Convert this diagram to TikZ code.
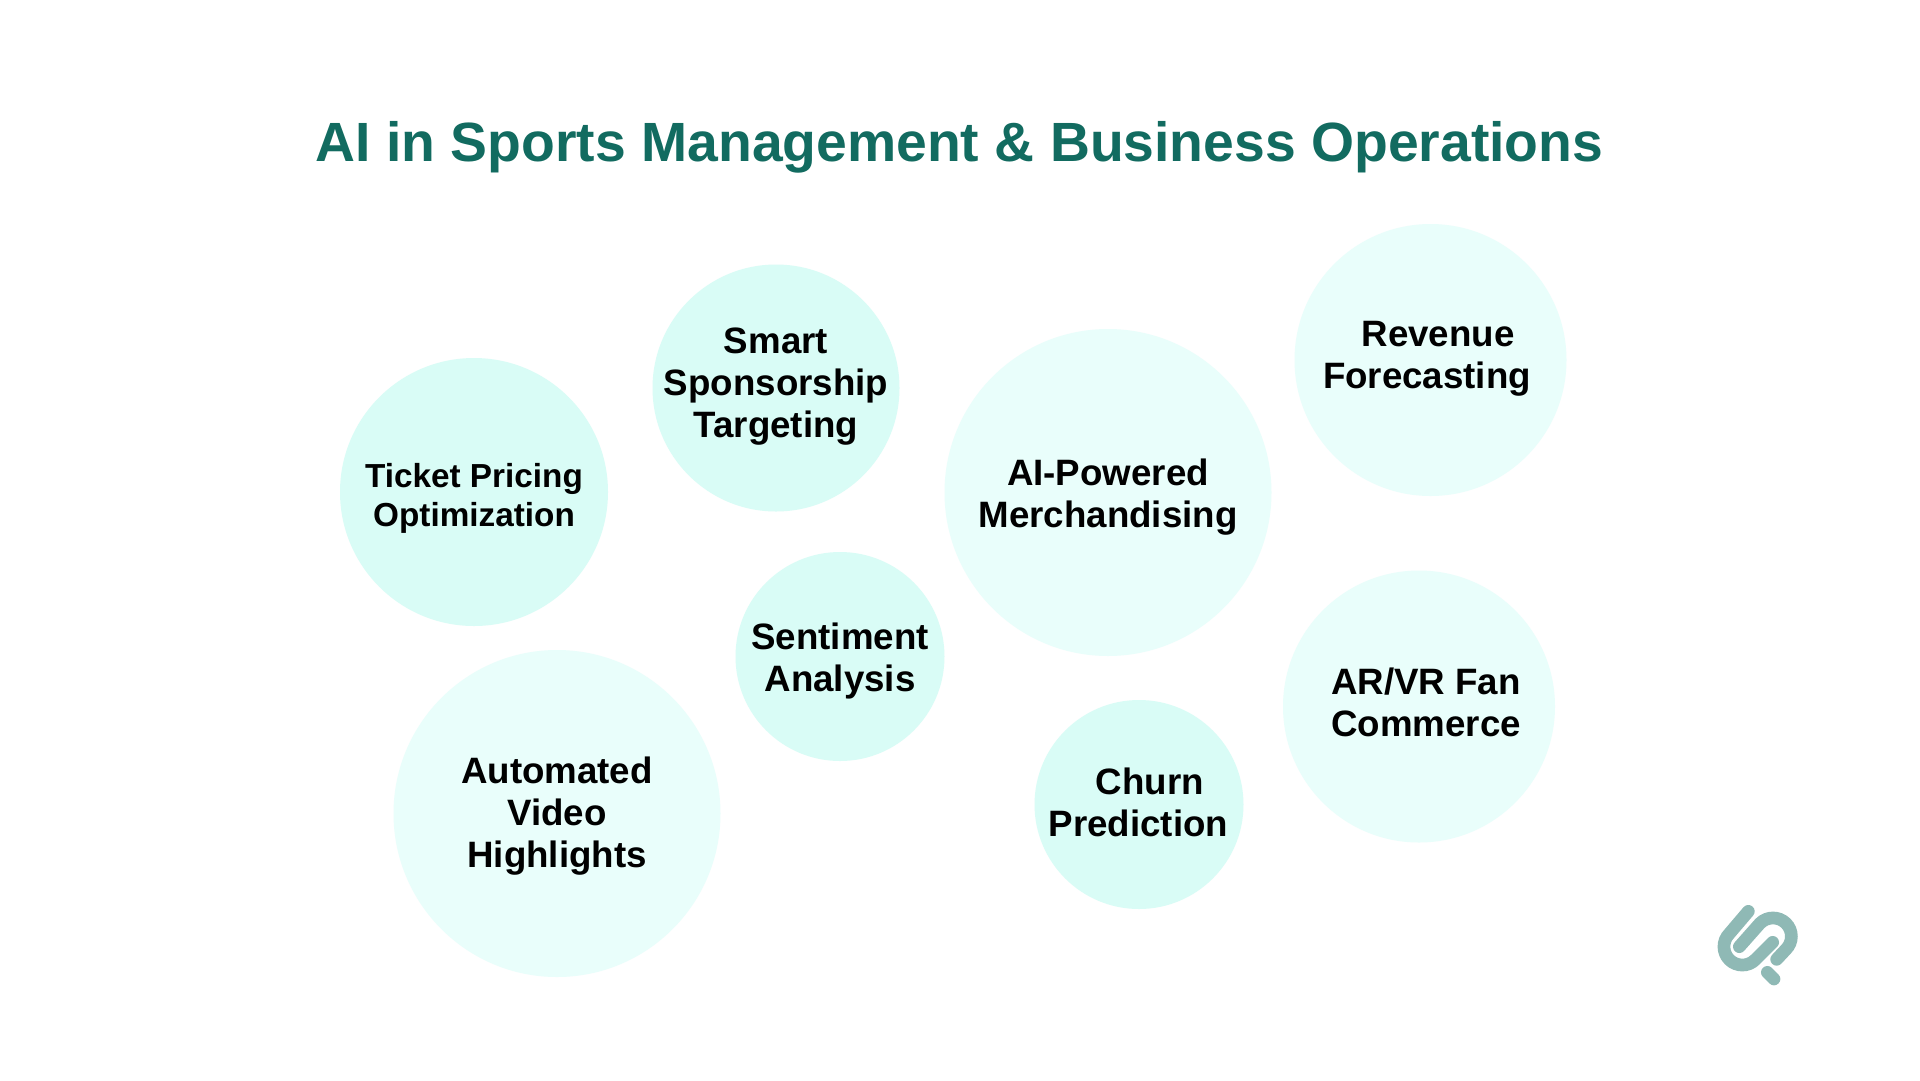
\documentclass[tikz,border=0pt]{standalone}
\usepackage{fontspec}
\setmainfont{Liberation Sans}
\definecolor{titlegreen}{HTML}{126B60}
\definecolor{bubbledark}{HTML}{D9FCF6}
\definecolor{bubblelight}{HTML}{E9FEFB}
\definecolor{logogreen}{HTML}{8FB9B5}
\tikzset{
  bubble/.style={circle,inner sep=0pt,outer sep=0pt,minimum size=#1},
  dark/.style={fill=bubbledark},
  light/.style={fill=bubblelight},
  caption/.style={align=center,inner sep=0pt,text=black,font=\fontsize{36.7}{42}\selectfont\bfseries},
  smallcaption/.style={caption,font=\fontsize{33.3}{39}\selectfont\bfseries},
  logoline/.style={draw=logogreen,line width=12.7pt,line cap=round}
}
\begin{document}
\begin{tikzpicture}[x=1pt,y=-1pt]
\useasboundingbox (0,0) rectangle (1920,1080);
\fill[white] (0,0) rectangle (1920,1080);
\node[text=titlegreen,inner sep=0pt,font=\fontsize{55.3}{60}\selectfont\bfseries] (title) at (959.5,147) {AI in Sports Management \& Business Operations};
\node[bubble=268pt,dark] (c1) at (474,492) {};
\node[bubble=247pt,dark] (c2) at (776,388) {};
\node[bubble=327pt,light] (c3) at (1108,492.5) {};
\node[bubble=272pt,light] (c4) at (1430.5,360) {};
\node[bubble=209pt,dark] (c5) at (840,656.5) {};
\node[bubble=327pt,light] (c6) at (557,813.5) {};
\node[bubble=209pt,dark] (c7) at (1139,804.5) {};
\node[bubble=272pt,light] (c8) at (1419,706.5) {};
\node[smallcaption] (t1) at (474,498) {Ticket Pricing\\Optimization};
\node[caption] (t2) at (776,386.5) {Smart\\Sponsorship\\Targeting};
\node[caption] (t3) at (1108,497) {AI-Powered\\Merchandising};
\node[caption] (t4) at (1427,358.5) {\hspace*{22pt}Revenue\\Forecasting};
\node[caption] (t5) at (840,661) {Sentiment\\Analysis};
\node[caption] (t6) at (557,816.5) {Automated\\Video\\Highlights};
\node[caption] (t7) at (1138.5,802) {\hspace*{23pt}Churn\\Prediction};
\node[caption] (t8) at (1426,702.5) {AR/VR Fan\\Commerce};
\begin{scope}[shift={(1680,880)},x=0.3333pt,y=-0.3333pt]
\draw[logoline] (205,94) -- (148,161) .. controls (126.5,182.5) and (126.5,217.5) .. (148,239) .. controls (169.5,260.5) and (204.5,260.5) .. (226,239) -- (278,187);
\draw[logoline] (178,200) -- (240,130) .. controls (261.5,108.5) and (296.5,108.5) .. (318,130) .. controls (339.5,151.5) and (339.5,186.5) .. (318,208) -- (290,238);
\draw[logoline] (262,277) -- (282,297);
\end{scope}
\end{tikzpicture}
\end{document}
